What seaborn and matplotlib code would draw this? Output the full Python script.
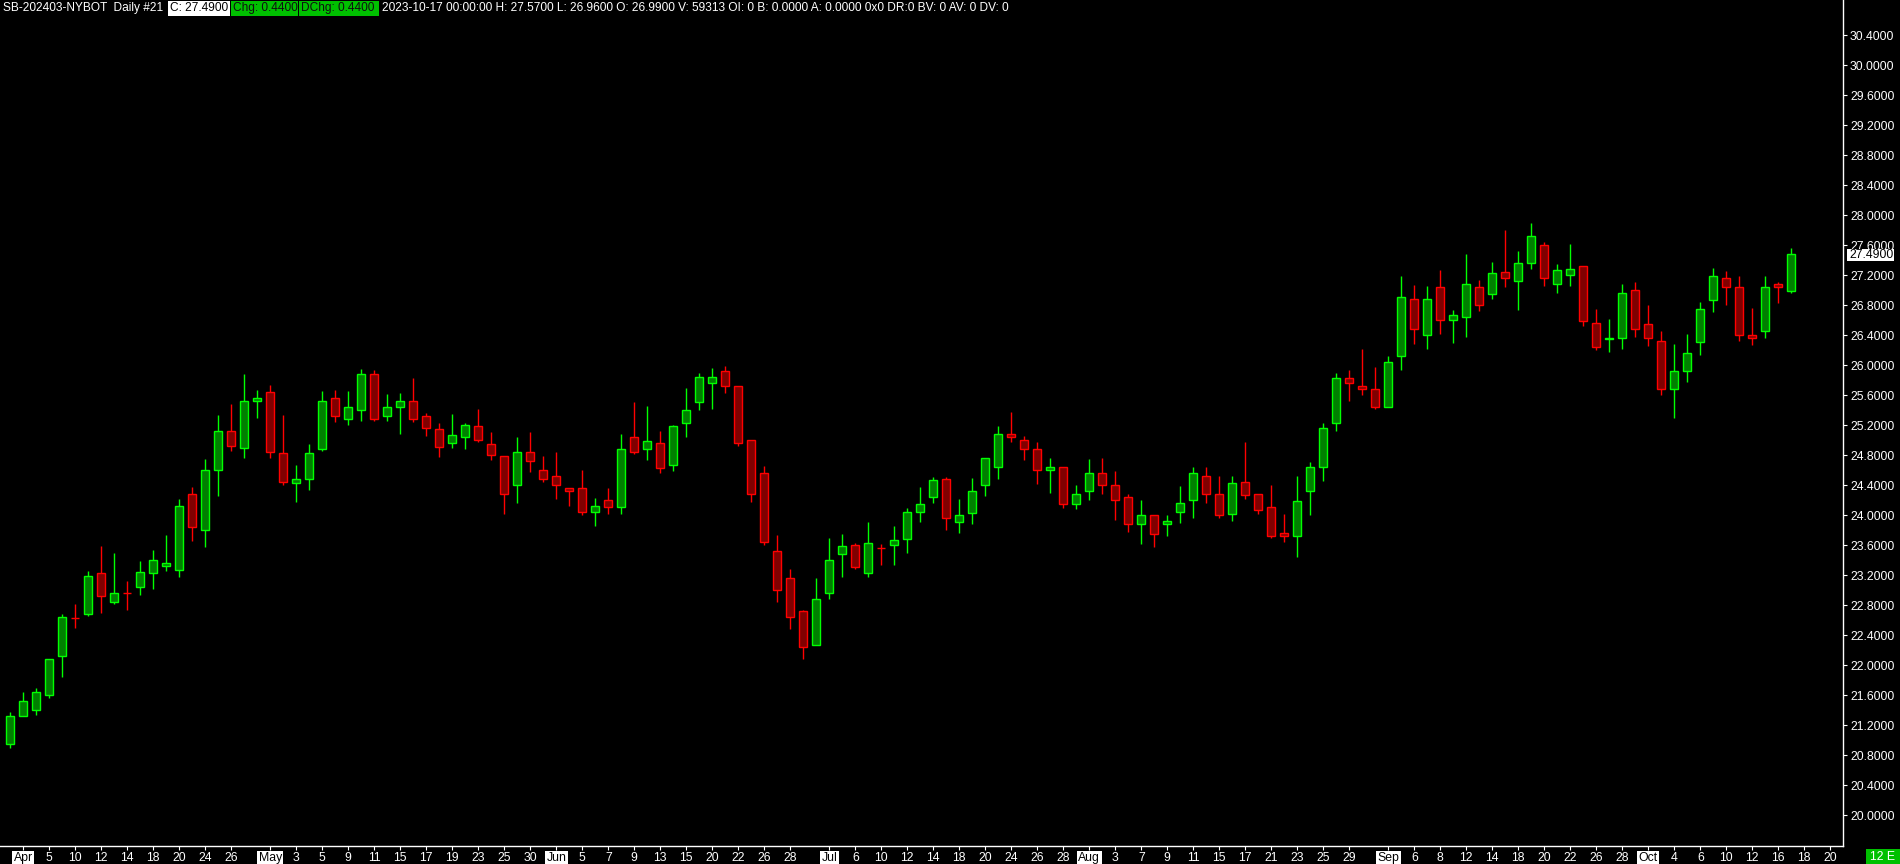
import numpy as np
import pandas as pd
import matplotlib
matplotlib.use("Agg")
import matplotlib.pyplot as plt
from matplotlib.patches import Rectangle
import seaborn as sns

# ---------------- data ----------------
opens = [20.95, 21.33, 21.41, 21.61, 22.13, 22.63, 22.69, 23.23, 22.85, 22.96,
         23.05, 23.23, 23.33, 23.27, 24.28, 23.80, 24.60, 25.13, 24.90, 25.53,
         25.65, 24.83, 24.43, 24.49, 24.88, 25.57, 25.29, 25.41, 25.89, 25.33,
         25.45, 25.53, 25.33, 25.15, 24.97, 25.05, 25.19, 24.95, 24.79, 24.41,
         24.85, 24.61, 24.53, 24.37, 24.36, 24.05, 24.21, 24.11, 25.04, 24.89,
         24.97, 24.67, 25.23, 25.51, 25.76, 25.93, 25.73, 25.01, 24.57, 23.53,
         23.17, 22.72, 22.27, 22.97, 23.49, 23.60, 23.23, 23.57, 23.61, 23.69,
         24.04, 24.25, 24.49, 23.91, 24.03, 24.41, 24.65, 25.09, 25.00, 24.89,
         24.61, 24.65, 24.15, 24.33, 24.57, 24.41, 24.24, 23.89, 24.00, 23.88,
         24.04, 24.21, 24.52, 24.28, 24.02, 24.45, 24.29, 24.11, 23.77, 23.72,
         24.33, 24.65, 25.23, 25.83, 25.73, 25.69, 25.45, 26.13, 26.89, 26.41,
         27.05, 26.61, 26.65, 27.04, 26.95, 27.25, 27.13, 27.37, 27.61, 27.09,
         27.20, 27.33, 26.57, 26.35, 26.37, 27.01, 26.55, 26.33, 25.68, 25.93,
         26.31, 26.87, 27.17, 27.05, 26.41, 26.46, 27.09, 26.99]
highs = [21.38, 21.64, 21.70, 22.08, 22.69, 22.82, 23.26, 23.59, 23.50, 23.12,
         23.39, 23.54, 23.74, 24.22, 24.38, 24.75, 25.34, 25.48, 25.88, 25.67,
         25.74, 25.34, 24.67, 24.95, 25.66, 25.67, 25.66, 25.95, 25.94, 25.62,
         25.63, 25.83, 25.36, 25.23, 25.35, 25.23, 25.42, 25.11, 24.79, 25.04,
         25.11, 24.79, 24.84, 24.37, 24.61, 24.23, 24.36, 25.08, 25.51, 25.46,
         25.12, 25.21, 25.70, 25.90, 25.96, 25.99, 25.73, 25.01, 24.66, 23.74,
         23.28, 22.74, 23.16, 23.70, 23.75, 23.63, 23.91, 23.62, 23.86, 24.10,
         24.38, 24.51, 24.51, 24.22, 24.50, 24.77, 25.19, 25.38, 25.06, 24.98,
         24.77, 24.65, 24.40, 24.75, 24.76, 24.59, 24.29, 24.21, 24.00, 24.01,
         24.39, 24.65, 24.64, 24.52, 24.53, 24.98, 24.29, 24.40, 24.02, 24.52,
         24.71, 25.23, 25.90, 25.94, 26.22, 25.98, 26.12, 27.19, 27.07, 27.06,
         27.27, 26.74, 27.48, 27.14, 27.38, 27.80, 27.52, 27.90, 27.65, 27.35,
         27.62, 27.33, 26.75, 26.62, 27.08, 27.11, 26.80, 26.46, 26.28, 26.42,
         26.84, 27.30, 27.26, 27.19, 26.77, 27.19, 27.11, 27.57]
lows = [20.90, 21.33, 21.34, 21.56, 21.84, 22.50, 22.66, 22.70, 22.82, 22.74,
        22.94, 23.02, 23.26, 23.18, 23.66, 23.58, 24.26, 24.86, 24.76, 25.30,
        24.77, 24.40, 24.18, 24.34, 24.86, 25.24, 25.21, 25.26, 25.26, 25.26,
        25.08, 25.25, 25.06, 24.78, 24.90, 24.88, 24.98, 24.74, 24.02, 24.17,
        24.58, 24.44, 24.22, 24.12, 24.00, 23.86, 24.02, 24.02, 24.82, 24.74,
        24.57, 24.59, 25.05, 25.40, 25.42, 25.63, 24.93, 24.18, 23.60, 22.84,
        22.48, 22.08, 22.27, 22.89, 23.18, 23.28, 23.18, 23.34, 23.34, 23.50,
        23.91, 24.16, 23.81, 23.77, 23.89, 24.26, 24.49, 24.98, 24.74, 24.42,
        24.30, 24.10, 24.09, 24.20, 24.29, 23.94, 23.78, 23.62, 23.58, 23.73,
        23.90, 23.97, 24.17, 23.97, 23.92, 24.22, 24.02, 23.70, 23.64, 23.44,
        24.01, 24.46, 25.13, 25.52, 25.60, 25.42, 25.45, 25.94, 26.28, 26.22,
        26.42, 26.30, 26.38, 26.72, 26.88, 27.05, 26.74, 27.29, 27.06, 26.96,
        27.06, 26.52, 26.20, 26.18, 26.22, 26.38, 26.26, 25.61, 25.30, 25.78,
        26.14, 26.71, 26.80, 26.32, 26.27, 26.37, 26.83, 26.96]
closes = [21.32, 21.52, 21.64, 22.08, 22.64, 22.63, 23.19, 22.93, 22.97, 22.96,
          23.25, 23.41, 23.37, 24.13, 23.85, 24.61, 25.13, 24.93, 25.53, 25.57,
          24.85, 24.45, 24.48, 24.83, 25.53, 25.33, 25.45, 25.89, 25.29, 25.44,
          25.53, 25.29, 25.17, 24.91, 25.07, 25.21, 25.01, 24.81, 24.29, 24.84,
          24.72, 24.49, 24.40, 24.33, 24.05, 24.13, 24.11, 24.89, 24.85, 24.99,
          24.63, 25.19, 25.41, 25.84, 25.85, 25.73, 24.96, 24.29, 23.65, 23.00,
          22.65, 22.24, 22.89, 23.40, 23.59, 23.31, 23.63, 23.57, 23.67, 24.04,
          24.15, 24.47, 23.96, 24.01, 24.33, 24.76, 25.09, 25.05, 24.88, 24.60,
          24.65, 24.15, 24.29, 24.57, 24.40, 24.20, 23.89, 24.01, 23.75, 23.92,
          24.17, 24.57, 24.28, 24.01, 24.43, 24.27, 24.07, 23.72, 23.72, 24.19,
          24.64, 25.17, 25.83, 25.77, 25.69, 25.44, 26.05, 26.91, 26.48, 26.89,
          26.61, 26.67, 27.08, 26.81, 27.23, 27.17, 27.37, 27.73, 27.16, 27.27,
          27.29, 26.59, 26.25, 26.37, 26.97, 26.49, 26.36, 25.68, 25.93, 26.17,
          26.75, 27.19, 27.05, 26.41, 26.36, 27.04, 27.05, 27.49]

holidays = ["2023-04-07", "2023-05-29", "2023-06-19", "2023-07-04", "2023-09-04"]
tick_dates = ["2023-04-03", "2023-04-05", "2023-04-10", "2023-04-12", "2023-04-14",
              "2023-04-18", "2023-04-20", "2023-04-24", "2023-04-26",
              "2023-05-01", "2023-05-03", "2023-05-05", "2023-05-09", "2023-05-11",
              "2023-05-15", "2023-05-17", "2023-05-19", "2023-05-23", "2023-05-25",
              "2023-05-30",
              "2023-06-01", "2023-06-05", "2023-06-07", "2023-06-09", "2023-06-13",
              "2023-06-15", "2023-06-20", "2023-06-22", "2023-06-26", "2023-06-28",
              "2023-07-03", "2023-07-06", "2023-07-10", "2023-07-12", "2023-07-14",
              "2023-07-18", "2023-07-20", "2023-07-24", "2023-07-26", "2023-07-28",
              "2023-08-01", "2023-08-03", "2023-08-07", "2023-08-09", "2023-08-11",
              "2023-08-15", "2023-08-17", "2023-08-21", "2023-08-23", "2023-08-25",
              "2023-08-29",
              "2023-09-01", "2023-09-06", "2023-09-08", "2023-09-12", "2023-09-14",
              "2023-09-18", "2023-09-20", "2023-09-22", "2023-09-26", "2023-09-28",
              "2023-10-02", "2023-10-04", "2023-10-06", "2023-10-10", "2023-10-12",
              "2023-10-16", "2023-10-18", "2023-10-20"]
y_ticks = [20.0 + 0.4 * k for k in range(27)]

header_left = "SB-202403-NYBOT  Daily #21"
header_c = "C: 27.4900"
header_chg = "Chg: 0.4400"
header_dchg = "DChg: 0.4400"
header_rest = ("2023-10-17 00:00:00 H: 27.5700 L: 26.9600 O: 26.9900 V: 59313 "
               "OI: 0 B: 0.0000 A: 0.0000 0x0 DR:0 BV: 0 AV: 0 DV: 0")
last_price_label = "27.4900"

# ---------------- build ----------------
days = pd.bdate_range("2023-03-31", "2023-10-20")
days = days[~days.isin(pd.to_datetime(holidays))]
pos = {d.strftime("%Y-%m-%d"): i for i, d in enumerate(days)}

df = pd.DataFrame({"o": opens, "h": highs, "l": lows, "c": closes})
df["x"] = np.arange(len(df))
up = df["c"] > df["o"]
edge = np.where(up, "#00FF00", "#FF0000")
fill = np.where(up, "#008000", "#800000")

sns.set_theme(style="dark")
plt.rcParams["font.family"] = ["Liberation Sans", "DejaVu Sans"]

W, H = 1900, 864
fig = plt.figure(figsize=(W / 100, H / 100), dpi=100, facecolor="black")
ax = fig.add_axes([0, 18 / H, 1843 / W, 846 / H])
ax.set_facecolor("black")

ax.vlines(df["x"], df["l"], df["h"], colors=edge, linewidth=1.0, zorder=2)
ax.bar(df["x"], (df["c"] - df["o"]).abs(), bottom=np.minimum(df["o"], df["c"]),
       width=0.62, color=fill, edgecolor=edge, linewidth=1.0, zorder=3)

ax.set_xlim(-10.3 / 13, (1843 - 10.3) / 13)
ax.set_ylim(26 - (846 - 365.3) / 75, 26 + 365.3 / 75)
ax.grid(False)

for s in ["left", "top"]:
    ax.spines[s].set_visible(False)
for s in ["right", "bottom"]:
    ax.spines[s].set_visible(True)
    ax.spines[s].set_color("white")
    ax.spines[s].set_linewidth(1.0)

ax.yaxis.tick_right()
ax.set_yticks(y_ticks)
ax.set_yticklabels([f"{v:.4f}" for v in y_ticks])
ax.tick_params(axis="y", colors="white", length=3, width=0.8, pad=2,
               labelsize=8.8, direction="out", right=True, left=False)

xt = [pos[d] for d in tick_dates]
labels = []
prev_month = None
for d in tick_dates:
    dt = pd.Timestamp(d)
    if dt.month != prev_month:
        labels.append(dt.strftime("%b"))
    else:
        labels.append(str(dt.day))
    prev_month = dt.month
ax.set_xticks(xt)
ax.set_xticklabels(labels)
ax.tick_params(axis="x", colors="white", length=3, width=0.8, pad=1.5,
               labelsize=8.8, direction="out", bottom=True)
for lab, txt in zip(ax.get_xticklabels(), labels):
    if not txt.isdigit():
        lab.set_color("black")
        lab.set_bbox(dict(facecolor="white", edgecolor="none", pad=1.0))

# header
def fx(px):
    return px / W

def fy(py):
    return 1 - py / H

fs = 8.8
hfs = 8.6
hy = 8.0
fig.text(fx(3), fy(hy), header_left, color="white", fontsize=hfs, va="center", ha="left")
fig.patches.append(Rectangle((fx(168), fy(16)), fx(230) - fx(168), 15 / H,
                             transform=fig.transFigure, facecolor="white", edgecolor="none"))
fig.text(fx(170), fy(hy), header_c, color="black", fontsize=hfs, va="center", ha="left")
fig.patches.append(Rectangle((fx(231), fy(16)), fx(298) - fx(231), 15 / H,
                             transform=fig.transFigure, facecolor="#00C000", edgecolor="none"))
fig.text(fx(233), fy(hy), header_chg, color="#101010", fontsize=hfs, va="center", ha="left")
fig.patches.append(Rectangle((fx(299), fy(16)), fx(379) - fx(299), 15 / H,
                             transform=fig.transFigure, facecolor="#00C000", edgecolor="none"))
fig.text(fx(301), fy(hy), header_dchg, color="#101010", fontsize=hfs, va="center", ha="left")
fig.text(fx(382), fy(hy), header_rest, color="white", fontsize=hfs, va="center", ha="left")

# last price label on the axis
fig.patches.append(Rectangle((fx(1847), fy(260.5)), fx(1894) - fx(1847), 12 / H,
                             transform=fig.transFigure, facecolor="white", edgecolor="none", zorder=5))
fig.text(fx(1849), fy(254.5), last_price_label, color="black", fontsize=fs, va="center",
         ha="left", zorder=6)

# bottom right box
fig.patches.append(Rectangle((fx(1866), 0), fx(1900) - fx(1866), 15 / H,
                             transform=fig.transFigure, facecolor="#00C000", edgecolor="none"))
fig.text(fx(1883), fy(856.5), "12 E", color="white", fontsize=fs, va="center", ha="center")

fig.savefig("out.png", dpi=100, facecolor="black")
